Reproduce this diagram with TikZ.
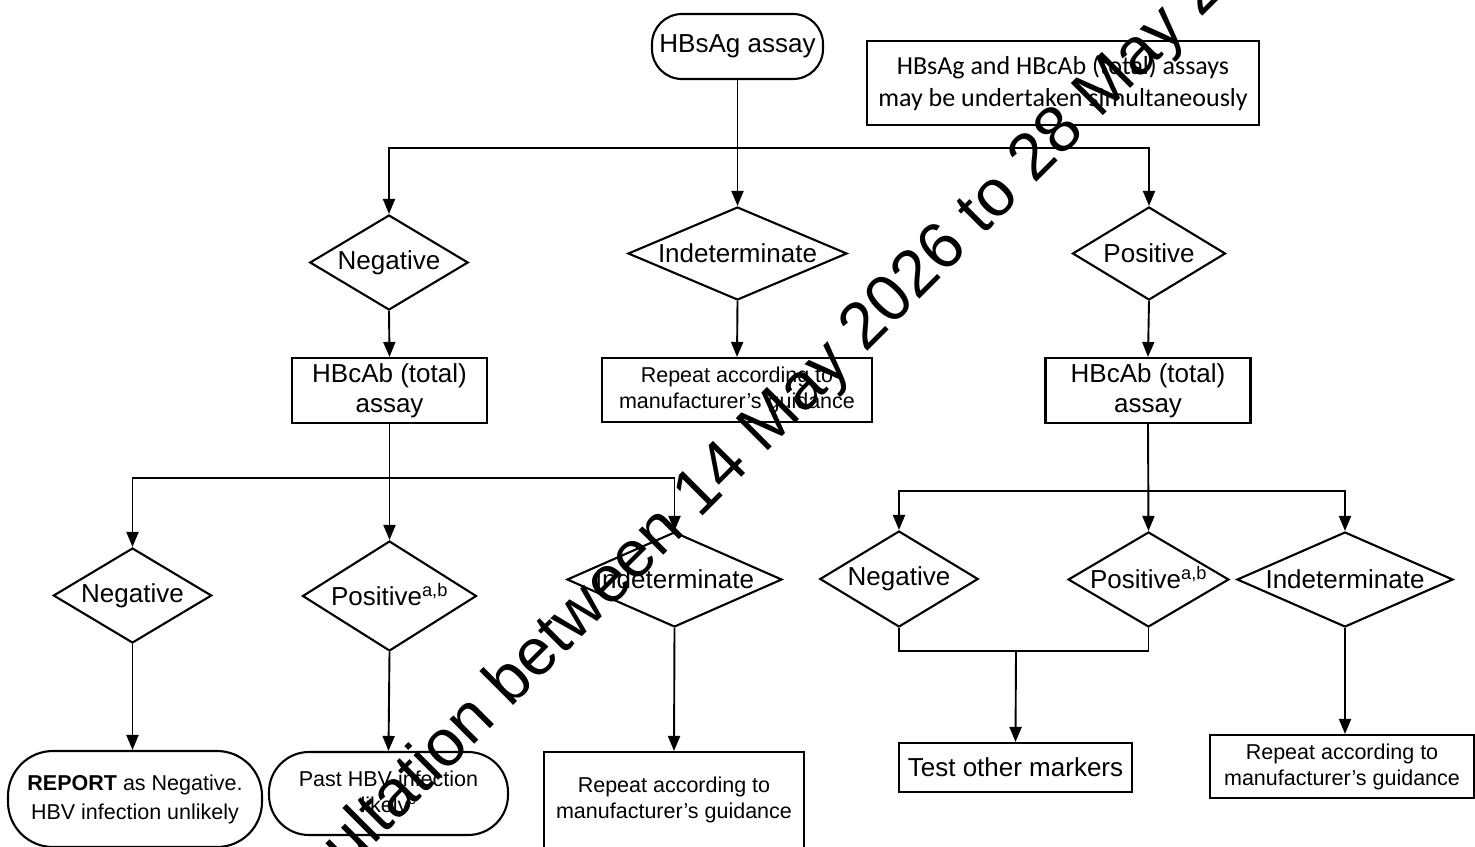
\documentclass[tikz,border=0pt]{standalone}
\usepackage{fontspec}
\setmainfont{Liberation Sans}
\newfontfamily\notefont{Carlito}
\usetikzlibrary{arrows.meta,shapes.geometric,calc}
\tikzset{
  base/.style={draw, line width=2.1pt, align=center, inner sep=0pt, fill=white},
  box/.style 2 args={base, rectangle, minimum width=#1, minimum height=#2},
  stad/.style n args={3}{base, rectangle, rounded corners=#3, minimum width=#1, minimum height=#2},
  dia/.style 2 args={base, diamond, aspect=2.3, minimum width=#1, minimum height=#2},
  arr/.style={line width=1.9pt, -{Triangle[length=15pt,width=12pt]}},
  ln/.style={line width=1.9pt},
  big/.style={font=\fontsize{26}{30}\selectfont},
  small/.style={font=\fontsize{21.5}{26}\selectfont},
  wmark/.style={rotate=45, anchor=base west, inner sep=0pt, font=\fontsize{66}{66}\selectfont},
}
\newcommand{\supab}[1]{\smash{\textsuperscript{#1}}}
\begin{document}
\begin{tikzpicture}[x=1pt,y=-1pt]
\useasboundingbox (0,0) rectangle (1475,846);
\clip (0,0) rectangle (1475,846);
\fill[white] (0,0) rectangle (1475,846);

% top level
\node[stad={171}{65}{30}, big] (hb) at (737.5,46.5) {HBsAg assay};
\node[box={392}{84}, line width=1.8pt, font=\notefont\fontsize{26}{32}\selectfont] (note) at (1063,83)
  {HBsAg and HBcAb (total) assays\\may be undertaken simultaneously};

\node[dia={154}{95}, big] (neg1) at (389,262.5) {Negative};
\node[dia={219}{93}, big] (ind1) at (737.5,253.5) {Indeterminate};
\node[dia={153}{93}, big] (pos1) at (1149,253.5) {Positive};

\node[box={195}{65}, big] (hbc1) at (389.5,390.5) {HBcAb (total)\\assay};
\node[box={270}{64}, small] (rep1) at (737,390) {Repeat according to\\manufacturer’s guidance};
\node[box={205}{65}, big] (hbc2) at (1148,390.5) {HBcAb (total)\\assay};

% second level
\node[dia={153}{95}, big] (neg2) at (132.5,595.5) {Negative};
\node[dia={174}{110}, big] (pos2) at (389.5,596) {Positive\supab{a,b}};
\node[dia={215}{95}, big] (ind2) at (674.5,579.5) {Indeterminate};

\node[dia={152}{96}, big] (neg3) at (899,579) {Negative};
\node[dia={153}{95}, big] (pos3) at (1148.5,579.5) {Positive\supab{a,b}};
\node[dia={216}{95}, big] (ind3) at (1345,579.5) {Indeterminate};

% outcomes
\node[stad={254}{96}{45}, font=\fontsize{21.5}{29}\selectfont] (report) at (135,799) {\textbf{REPORT} as Negative.\\HBV infection unlikely};
\node[stad={239}{83}{40}, small] (past) at (388.5,793.5) {Past HBV infection\\likely\supab{c}};
\node[box={260}{96}, small] (rep2) at (674,800) {Repeat according to\\manufacturer’s guidance};
\node[box={233}{49}, big] (test) at (1015.5,767.5) {Test other markers};
\node[box={264}{63}, small] (rep3) at (1342,766.5) {Repeat according to\\manufacturer’s guidance};

% junctions
\coordinate (j1) at (737.5,148);
\coordinate (j2) at (389.5,478);
\coordinate (j3) at (1148.5,491);
\coordinate (j4) at (1016,651);

% connectors
\draw[arr] (hb.south) -- (ind1.north);
\draw[arr] (j1) -| (neg1.north);
\draw[arr] (j1) -| (pos1.north);
\draw[arr] (neg1.south) -- (hbc1.north);
\draw[arr] (ind1.south) -- (rep1.north);
\draw[arr] (pos1.south) -- (hbc2.north);

\draw[arr] (hbc1.south) -- (pos2.north);
\draw[arr] (j2) -| (neg2.north);
\draw[arr] (j2) -| (ind2.north);
\draw[arr] (hbc2.south) -- (pos3.north);
\draw[arr] (j3) -| (neg3.north);
\draw[arr] (j3) -| (ind3.north);

\draw[arr] (neg2.south) -- (neg2.south |- report.north);
\draw[arr] (pos2.south) -- (past.north);
\draw[arr] (ind2.south) -- (rep2.north);
\draw[ln] (neg3.south) |- (j4) -| (pos3.south);
\draw[arr] (j4) -- (test.north);
\draw[arr] (ind3.south) -- (ind3.south |- rep3.north);

% watermark
\node[wmark] (wm) at (238,981) {Consultation between 14 May 2026 to 28 May 2026};
\end{tikzpicture}
\end{document}
